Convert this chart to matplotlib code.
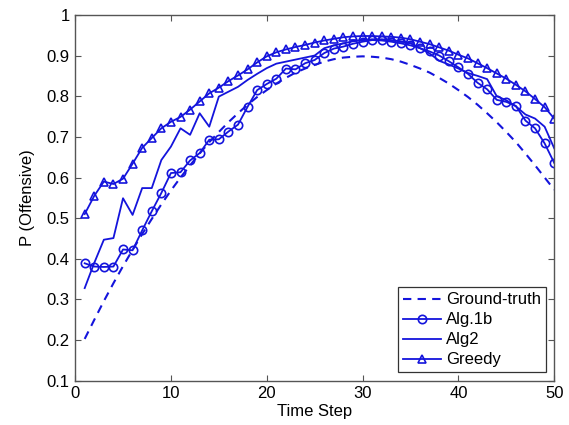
import matplotlib
matplotlib.use("Agg")
import matplotlib.pyplot as plt
import numpy as np

plt.rcParams['font.family'] = ['Liberation Sans', 'DejaVu Sans']

steps = list(range(1, 51))

ground_truth = [0.203, 0.250, 0.296, 0.340, 0.382, 0.422, 0.461, 0.498, 0.534, 0.568,
                0.600, 0.630, 0.659, 0.687, 0.712, 0.736, 0.758, 0.779, 0.798, 0.815,
                0.831, 0.845, 0.858, 0.868, 0.877, 0.885, 0.891, 0.895, 0.897, 0.898,
                0.897, 0.895, 0.891, 0.885, 0.877, 0.868, 0.858, 0.845, 0.831, 0.815,
                0.798, 0.779, 0.758, 0.736, 0.712, 0.687, 0.659, 0.630, 0.600, 0.570]

alg1b = [0.389, 0.381, 0.380, 0.381, 0.423, 0.421, 0.470, 0.517, 0.562, 0.611,
         0.613, 0.642, 0.660, 0.693, 0.694, 0.713, 0.730, 0.774, 0.815, 0.830,
         0.843, 0.868, 0.866, 0.881, 0.889, 0.906, 0.917, 0.922, 0.929, 0.934,
         0.938, 0.937, 0.934, 0.930, 0.925, 0.918, 0.910, 0.900, 0.886, 0.871,
         0.855, 0.833, 0.817, 0.791, 0.786, 0.776, 0.740, 0.721, 0.684, 0.636]

alg2 = [0.328, 0.390, 0.447, 0.451, 0.549, 0.508, 0.574, 0.574, 0.643, 0.676,
        0.721, 0.705, 0.758, 0.725, 0.799, 0.811, 0.823, 0.840, 0.855, 0.869,
        0.880, 0.885, 0.890, 0.895, 0.900, 0.918, 0.925, 0.930, 0.935, 0.938,
        0.940, 0.940, 0.938, 0.935, 0.930, 0.918, 0.905, 0.887, 0.878, 0.868,
        0.857, 0.850, 0.842, 0.800, 0.790, 0.775, 0.755, 0.745, 0.725, 0.672]

greedy = [0.510, 0.555, 0.590, 0.584, 0.597, 0.634, 0.673, 0.697, 0.721, 0.737,
          0.749, 0.767, 0.787, 0.807, 0.821, 0.837, 0.851, 0.866, 0.883, 0.898,
          0.908, 0.915, 0.921, 0.926, 0.932, 0.937, 0.941, 0.945, 0.947, 0.948,
          0.948, 0.947, 0.946, 0.944, 0.940, 0.934, 0.928, 0.920, 0.912, 0.902,
          0.893, 0.881, 0.869, 0.856, 0.843, 0.828, 0.812, 0.793, 0.773, 0.745]

xticks = [0, 10, 20, 30, 40, 50]
yticks = [0.1, 0.2, 0.3, 0.4, 0.5, 0.6, 0.7, 0.8, 0.9, 1.0]
ytick_labels = ['0.1', '0.2', '0.3', '0.4', '0.5', '0.6', '0.7', '0.8', '0.9', '1']

col = '#1414dc'

fig = plt.figure(figsize=(5.69, 4.25), dpi=100)
ax = fig.add_axes([0.132, 0.104, 0.842, 0.861])

ax.plot(steps, ground_truth, '--', color=col, lw=1.5, dashes=(4, 3), label='Ground-truth')
ax.plot(steps, alg1b, '-o', color=col, lw=1.3, ms=6, mfc='none', mew=1.2, label='Alg.1b')
ax.plot(steps, alg2, '-', color=col, lw=1.3, label='Alg2')
ax.plot(steps, greedy, '-^', color=col, lw=1.3, ms=6, mfc='none', mew=1.2, label='Greedy')

ax.set_xlim(0, 50)
ax.set_ylim(0.1, 1.0)
ax.set_xticks(xticks)
ax.set_yticks(yticks)
ax.set_yticklabels(ytick_labels)
ax.tick_params(direction='in', length=4, width=0.8, color='#555555',
               top=True, right=True, labelsize=12, pad=4)
for s in ax.spines.values():
    s.set_color('#555555')
    s.set_linewidth(1.0)

ax.set_xlabel('Time Step', fontsize=12, labelpad=2)
ax.set_ylabel('P (Offensive)', fontsize=12, labelpad=8)

leg = ax.legend(loc='lower right', fontsize=12, fancybox=False, framealpha=1,
                edgecolor='#333333', labelspacing=0.3, handlelength=2.3,
                handletextpad=0.3, borderpad=0.3, borderaxespad=0.5)
leg.get_frame().set_linewidth(0.9)

fig.savefig('out.png', dpi=100)
